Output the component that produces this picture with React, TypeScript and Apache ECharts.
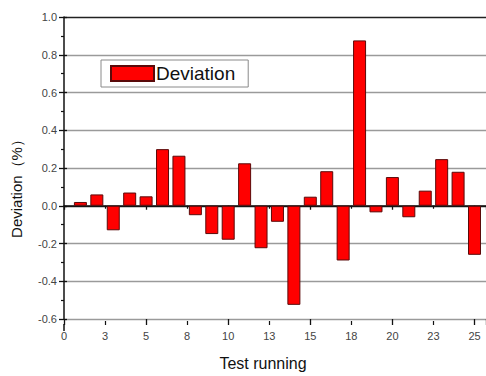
import React, { useEffect, useRef } from "react";
import * as echarts from "echarts";

const runs = [1, 2, 3, 4, 5, 6, 7, 8, 9, 10, 11, 12, 13, 14, 15, 16, 17, 18, 19, 20, 21, 22, 23, 24, 25];
const deviation = [
  0.02, 0.06, -0.13, 0.07, 0.05, 0.30, 0.265, -0.05, -0.15, -0.18, 0.225, -0.225, -0.085,
  -0.525, 0.048, 0.183, -0.29, 0.876, -0.035, 0.152, -0.061, 0.08, 0.247, 0.18, -0.26,
];
const seriesName = "Deviation";
const xTitle = "Test running";
const yTitle = "Deviation（%）";

const FONT = "'Liberation Sans', Arial, sans-serif";

export default function App() {
  const ref = useRef<HTMLDivElement>(null);
  useEffect(() => {
    document.body.style.margin = "0";
    document.body.style.overflow = "hidden";
    if (!ref.current) return;
    const chart = echarts.init(ref.current, null, { renderer: "svg" });
    const xCommon = {
      type: "value" as const,
      min: 0,
      max: 25.7,
      position: "bottom" as const,
      offset: 6,
      splitLine: { show: false },
    };
    const yCommon = {
      type: "value" as const,
      min: -0.6,
      max: 1.0,
      interval: 0.2,
      position: "left" as const,
    };
    chart.setOption({
      animation: false,
      backgroundColor: "#ffffff",
      textStyle: { fontFamily: FONT },
      grid: { left: 64, top: 17, right: 0, bottom: 51, containLabel: false },
      legend: {
        left: 101,
        top: 60,
        padding: [4, 13, 4, 9],
        itemWidth: 43,
        itemHeight: 15,
        itemGap: 4,
        icon: "rect",
        borderColor: "#8a8a8a",
        borderWidth: 1,
        backgroundColor: "#ffffff",
        textStyle: { fontSize: 19, color: "#111", fontFamily: FONT, padding: [0, 0, 0, -3] },
        data: [seriesName],
      },
      xAxis: [
        {
          ...xCommon,
          interval: 2.5,
          axisLine: { show: true, lineStyle: { color: "#111", width: 1.5 } },
          axisTick: { show: false },
          axisLabel: {
            color: "#444",
            fontSize: 11,
            margin: 5,
            formatter: (v: number) => String(Math.round(v)),
          },
          name: xTitle,
          nameLocation: "middle",
          nameGap: 30,
          nameTextStyle: { fontSize: 16, color: "#111", padding: [0, 24, 0, 0] },
        },
        {
          ...xCommon,
          interval: 5,
          axisLine: { show: false },
          axisLabel: { show: false },
          axisTick: { show: true, length: 4, lineStyle: { color: "#111", width: 1.3 } },
          minorTick: { show: true, splitNumber: 2, length: 3, lineStyle: { color: "#111", width: 1.2 } },
        },
        {
          ...xCommon,
          interval: 5,
          axisLine: { show: false },
          axisLabel: { show: false },
          axisTick: { show: true, inside: true, length: 6, lineStyle: { color: "#111", width: 1.3 } },
          minorTick: { show: true, splitNumber: 2, length: 4, lineStyle: { color: "#111", width: 1.2 } },
        },
      ],
      yAxis: [
        {
          ...yCommon,
          axisLine: { show: true, lineStyle: { color: "#111", width: 1.5 } },
          axisTick: { show: true, length: 5, lineStyle: { color: "#111", width: 1.3 } },
          minorTick: { show: true, splitNumber: 2, length: 3, lineStyle: { color: "#111", width: 1.2 } },
          axisLabel: {
            color: "#444",
            fontSize: 11,
            margin: 7,
            formatter: (v: number) => v.toFixed(1),
          },
          splitLine: {
            show: true,
            lineStyle: {
              width: 1.3,
              color: ["#9a9a9a", "#9a9a9a", "#9a9a9a", "#222", "#9a9a9a", "#9a9a9a", "#9a9a9a", "#9a9a9a", "#222"],
            },
          },
          name: yTitle,
          nameLocation: "middle",
          nameRotate: 90,
          nameGap: 40,
          nameTextStyle: { fontSize: 15, color: "#111", padding: [0, 34, 0, 0] },
        },
        {
          ...yCommon,
          axisLine: { show: false },
          axisLabel: { show: false },
          splitLine: { show: false },
          axisTick: { show: true, inside: true, length: 3, lineStyle: { color: "#111", width: 1.3 } },
        },
      ],
      graphic: [
        {
          type: "line",
          shape: { x1: 64, y1: 324, x2: 64, y2: 331 },
          style: { stroke: "#111", lineWidth: 1.5 },
          silent: true,
        },
      ],
      series: [
        {
          name: seriesName,
          type: "bar",
          xAxisIndex: 0,
          yAxisIndex: 0,
          barWidth: 13,
          data: runs.map((r, i) => [r, deviation[i]]),
          itemStyle: { color: "#ff0000", borderColor: "#5a0a0a", borderWidth: 1 },
        },
      ],
    });
    return () => chart.dispose();
  }, []);
  return <div ref={ref} style={{ width: 486, height: 376 }} />;
}
